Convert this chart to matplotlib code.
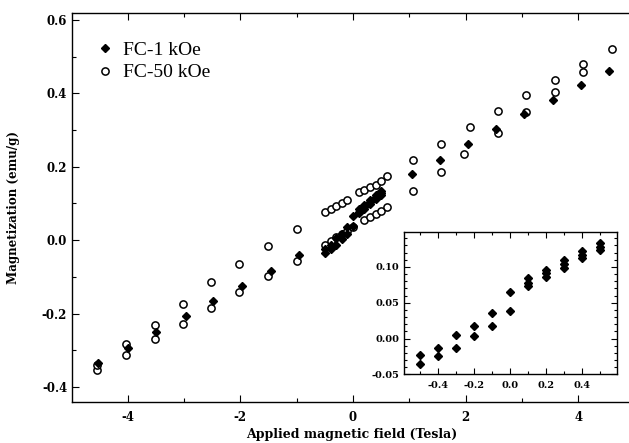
import matplotlib
matplotlib.use('Agg')
import matplotlib.pyplot as plt
from matplotlib.ticker import MultipleLocator

# FC-1 kOe, main panel (filled diamonds)
fc1_x_neg = [-4.52, -3.99, -3.49, -2.97, -2.48, -1.97, -1.46, -0.96]
fc1_y_neg = [-0.335, -0.294, -0.250, -0.207, -0.166, -0.125, -0.084, -0.041]
fc1_x_pos = [1.04, 1.54, 2.04, 2.54, 3.04, 3.55, 4.05, 4.55]
fc1_y_pos = [0.179, 0.218, 0.261, 0.302, 0.345, 0.383, 0.422, 0.461]

# FC-1 kOe, low field (inset and centre of main panel)
low_x = [-0.5, -0.5, -0.4, -0.4, -0.3, -0.3, -0.2, -0.2, -0.1, -0.1, 0.0, 0.0,
         0.1, 0.1, 0.1, 0.2, 0.2, 0.2, 0.3, 0.3, 0.3, 0.4, 0.4, 0.4, 0.5, 0.5, 0.5]
low_y = [-0.023, -0.035, -0.013, -0.024, 0.005, -0.013, 0.018, 0.004, 0.036, 0.018, 0.065, 0.038,
         0.084, 0.078, 0.073, 0.096, 0.091, 0.086, 0.109, 0.104, 0.099, 0.122, 0.117, 0.112,
         0.133, 0.128, 0.124]

# FC-50 kOe (open circles), two branches
fc50_x_neg = [-4.55, -4.03, -3.52, -3.02, -2.52, -2.02, -1.51, -1.00]
fc50_up_neg = [-0.339, -0.284, -0.230, -0.174, -0.115, -0.064, -0.016, 0.031]
fc50_lo_neg = [-0.353, -0.312, -0.270, -0.228, -0.185, -0.142, -0.098, -0.057]
fc50_x_up_pos = [1.06, 1.56, 2.07, 2.57, 3.07, 3.58, 4.08, 4.59]
fc50_up_pos = [0.218, 0.262, 0.309, 0.353, 0.395, 0.436, 0.479, 0.521]
fc50_x_lo_pos = [1.06, 1.56, 1.97, 2.57, 3.07, 3.58, 4.08]
fc50_lo_pos = [0.134, 0.185, 0.236, 0.291, 0.348, 0.403, 0.457]
# centre region
c_x_ul = [-0.5, -0.4, -0.3, -0.2, -0.1]
c_y_ul = [0.078, 0.086, 0.094, 0.102, 0.110]
c_x_ur = [0.1, 0.2, 0.3, 0.4, 0.5, 0.6]
c_y_ur = [0.131, 0.137, 0.144, 0.151, 0.160, 0.174]
c_x_ll = [-0.5, -0.4, -0.3, -0.2, -0.1, 0.0]
c_y_ll = [-0.012, -0.002, 0.008, 0.017, 0.026, 0.035]
c_x_lr = [0.2, 0.3, 0.4, 0.5, 0.6]
c_y_lr = [0.055, 0.062, 0.071, 0.080, 0.089]

plt.rcParams['axes.unicode_minus'] = False
tick_font = {'family': 'DejaVu Serif', 'weight': 'bold', 'size': 8.5}


def style_ticks(ax, size_major, size_minor):
    ax.tick_params(which='both', direction='in', top=True, width=0.8)
    ax.tick_params(which='major', length=size_major)
    ax.tick_params(which='minor', length=size_minor)
    for lab in ax.get_xticklabels() + ax.get_yticklabels():
        lab.set_fontfamily(tick_font['family'])
        lab.set_fontweight(tick_font['weight'])
        lab.set_fontsize(tick_font['size'])


fig = plt.figure(figsize=(6.29, 4.43), dpi=100)
ax = fig.add_axes([0.1145, 0.0926, 0.8855, 0.8781])

circ = dict(linestyle='none', marker='o', markersize=5.2, markerfacecolor='white',
            markeredgecolor='black', markeredgewidth=1.1)
diam = dict(linestyle='none', marker='D', markersize=4.2, color='black')

ax.plot(fc50_x_neg + c_x_ll + c_x_lr + fc50_x_lo_pos,
        fc50_lo_neg + c_y_ll + c_y_lr + fc50_lo_pos, **circ)
ax.plot(fc50_x_neg + c_x_ul + c_x_ur + fc50_x_up_pos,
        fc50_up_neg + c_y_ul + c_y_ur + fc50_up_pos, label='FC-50 kOe', **circ)
ax.plot(fc1_x_neg + low_x + fc1_x_pos, fc1_y_neg + low_y + fc1_y_pos,
        label='FC-1 kOe', **diam)

ax.set_xlim(-4.99, 4.90)
ax.set_ylim(-0.441, 0.619)
ax.xaxis.set_major_locator(MultipleLocator(2))
ax.xaxis.set_minor_locator(MultipleLocator(1))
ax.yaxis.set_major_locator(MultipleLocator(0.2))
ax.yaxis.set_minor_locator(MultipleLocator(0.1))
ax.yaxis.set_major_formatter(plt.FuncFormatter(lambda v, p: '%.1f' % v))
ax.spines['right'].set_visible(False)
for s in ['left', 'top', 'bottom']:
    ax.spines[s].set_linewidth(1.0)
ax.tick_params(axis='x', pad=6.5)
ax.tick_params(axis='y', pad=3.5)
style_ticks(ax, 5, 3)

ax.set_xlabel('Applied magnetic field (Tesla)', fontfamily='DejaVu Serif',
              fontweight='bold', fontsize=9)
ax.set_ylabel('Magnetization (emu/g)', fontfamily='DejaVu Serif',
              fontweight='bold', fontsize=8.6)
ax.xaxis.set_label_coords(0.503, -0.067)
ax.yaxis.set_label_coords(-0.093, 0.5)

handles, labels = ax.get_legend_handles_labels()
ax.legend(handles[::-1], labels[::-1], loc='upper left', bbox_to_anchor=(0.044, 0.927),
          frameon=False, handlelength=0.9, handletextpad=0.45, labelspacing=0.25,
          borderaxespad=0, borderpad=0, prop={'family': 'Liberation Serif', 'size': 14})

# Inset
ins = fig.add_axes([0.6415, 0.155, 0.3399, 0.3219])
ins.plot(low_x, low_y, **diam)
ins.set_xlim(-0.592, 0.596)
ins.set_ylim(-0.050, 0.149)
ins.xaxis.set_major_locator(MultipleLocator(0.2))
ins.xaxis.set_minor_locator(MultipleLocator(0.1))
ins.yaxis.set_major_locator(MultipleLocator(0.05))
ins.yaxis.set_minor_locator(MultipleLocator(0.01))
ins.xaxis.set_major_formatter(plt.FuncFormatter(lambda v, p: '%.1f' % v))
ins.yaxis.set_major_formatter(plt.FuncFormatter(lambda v, p: '%.2f' % v))
ins.tick_params(which='both', right=True)
ins.tick_params(axis='x', pad=5)
ins.tick_params(axis='y', pad=3)
for s in ins.spines.values():
    s.set_linewidth(1.0)
style_ticks(ins, 4, 2)
for lab in ins.get_xticklabels() + ins.get_yticklabels():
    lab.set_fontsize(7)

fig.savefig('out.png', dpi=100)
